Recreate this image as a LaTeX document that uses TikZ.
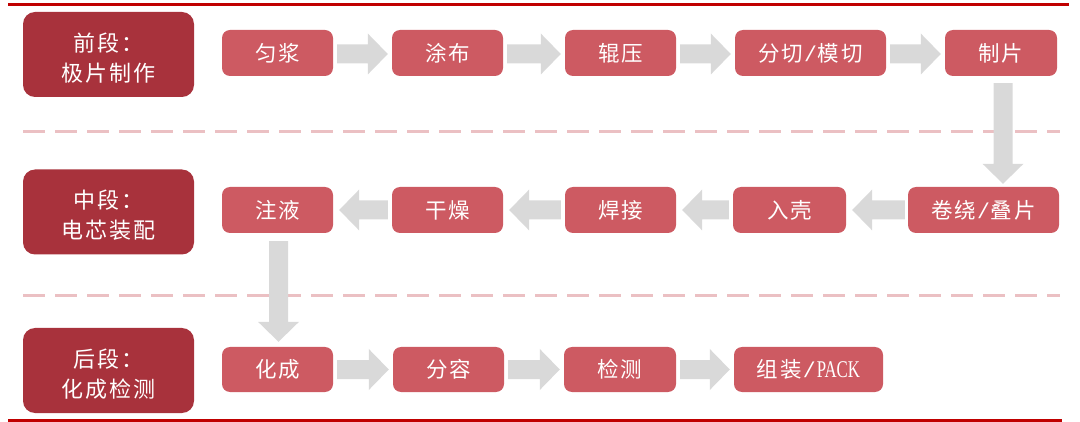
\documentclass[tikz,border=0pt]{standalone}
\usepackage{fontspec}
\newfontfamily\cjk[LetterSpace=9]{Noto Sans CJK SC}
\newfontfamily\packfont[FakeStretch=0.7]{Liberation Serif}
\newfontfamily\slashfont{Liberation Mono}
\usetikzlibrary{calc}
\definecolor{stagered}{HTML}{A8323C}
\definecolor{procred}{HTML}{CD5A62}
\definecolor{linered}{HTML}{C00000}
\definecolor{dashpink}{HTML}{EBC0C3}
\definecolor{arrowgray}{HTML}{D9D9D9}
\newcommand\myslash{{\slashfont\kern1pt/\kern1pt}}
\newcommand\flowarr[2]{%
  \coordinate (fa-s) at #1;
  \coordinate (fa-e) at #2;
  \coordinate (fa-h) at ($(fa-e)!20pt!(fa-s)$);
  \fill[flowarrow] ($(fa-s)!9.5pt!90:(fa-e)$) -- ($(fa-h)!9.5pt!90:(fa-e)$)
    -- ($(fa-h)!20.5pt!90:(fa-e)$) -- (fa-e) -- ($(fa-h)!20.5pt!-90:(fa-e)$)
    -- ($(fa-h)!9.5pt!-90:(fa-e)$) -- ($(fa-s)!9.5pt!-90:(fa-e)$) -- cycle;}
\begin{document}
\begin{tikzpicture}[x=1pt,y=-1pt,
  stagebox/.style={fill=stagered, rounded corners=12pt, minimum width=171pt,
    minimum height=85pt, text=white, font=\cjk\fontsize{22}{30}\selectfont,
    align=center, inner sep=0pt},
  procbox/.style={fill=procred, rounded corners=8pt, minimum height=46pt,
    text=white, font=\cjk\fontsize{21.5}{26}\selectfont, inner sep=0pt},
  flowarrow/.style={fill=arrowgray},
  redrule/.style={draw=linered, line width=3pt},
  stagerule/.style={draw=dashpink, line width=3pt, dash pattern=on 22pt off 10pt}]
\useasboundingbox (0,0) rectangle (1080,422);
% rules
\draw[redrule] (8,5) -- (1069,5);
\draw[redrule] (8,420) -- (1062,420);
\draw[stagerule] (23,132) -- (1060,132);
\draw[stagerule] (23,296) -- (1060,296);
% stage boxes
\node[stagebox] (s1) at (108.5,54.5) {\rule{0pt}{25pt}前段：\\极片制作};
\node[stagebox] (s2) at (108.5,212) {\rule{0pt}{25pt}中段：\\电芯装配};
\node[stagebox] (s3) at (108.5,370.5) {\rule{0pt}{25pt}后段：\\化成检测};
% row 1
\node[procbox, minimum width=111pt] (b1) at (277.5,53) {匀浆};
\node[procbox, minimum width=111pt] (b2) at (447.5,53) {涂布};
\node[procbox, minimum width=111pt] (b3) at (620.5,53) {辊压};
\node[procbox, minimum width=151pt] (b4) at (810.5,53) {分切\myslash 模切};
\node[procbox, minimum width=112pt] (b5) at (1001,53) {制片};
% row 2
\node[procbox, minimum width=151pt] (c1) at (983.5,210) {卷绕\myslash 叠片};
\node[procbox, minimum width=113pt] (c2) at (789.5,210) {入壳};
\node[procbox, minimum width=111pt] (c3) at (620.5,210) {焊接};
\node[procbox, minimum width=111pt] (c4) at (447.5,210) {干燥};
\node[procbox, minimum width=111pt] (c5) at (277.5,210) {注液};
% row 3
\node[procbox, minimum width=111pt, minimum height=45pt] (d1) at (277.5,369.5) {化成};
\node[procbox, minimum width=111pt, minimum height=45pt] (d2) at (448.5,369.5) {分容};
\node[procbox, minimum width=112pt, minimum height=45pt] (d3) at (620,369.5) {检测};
\node[procbox, minimum width=149pt, minimum height=45pt] (d4) at (808.5,369.5) {组装\myslash{\packfont\fontsize{24}{26}\selectfont PACK}};
% arrows row 1
\flowarr{($(b1.east)+(4,1)$)}{($(b2.west)+(-4,1)$)}
\flowarr{($(b2.east)+(4,1)$)}{($(b3.west)+(-4,1)$)}
\flowarr{($(b3.east)+(4,1)$)}{($(b4.west)+(-4,1)$)}
\flowarr{($(b4.east)+(4,1)$)}{($(b5.west)+(-4,1)$)}
% down arrow 1
\coordinate (d1e) at (b5.south |- c1.north);
\flowarr{($(b5.south)+(2,7)$)}{($(d1e)+(2,-3)$)}
% arrows row 2
\flowarr{($(c1.west)+(-3,0)$)}{($(c2.east)+(6,0)$)}
\flowarr{($(c2.west)+(-4,0)$)}{($(c3.east)+(6,0)$)}
\flowarr{($(c3.west)+(-4,0)$)}{($(c4.east)+(6,0)$)}
\flowarr{($(c4.west)+(-4,0)$)}{($(c5.east)+(6,0)$)}
% down arrow 2
\coordinate (d2e) at (c5.south |- d1.north);
\flowarr{($(c5.south)+(1,8)$)}{($(d2e)+(1,-5)$)}
% arrows row 3
\flowarr{($(d1.east)+(4,0)$)}{($(d2.west)+(-4,0)$)}
\flowarr{($(d2.east)+(4,0)$)}{($(d3.west)+(-4,0)$)}
\flowarr{($(d3.east)+(4,0)$)}{($(d4.west)+(-4,0)$)}
\end{tikzpicture}
\end{document}
